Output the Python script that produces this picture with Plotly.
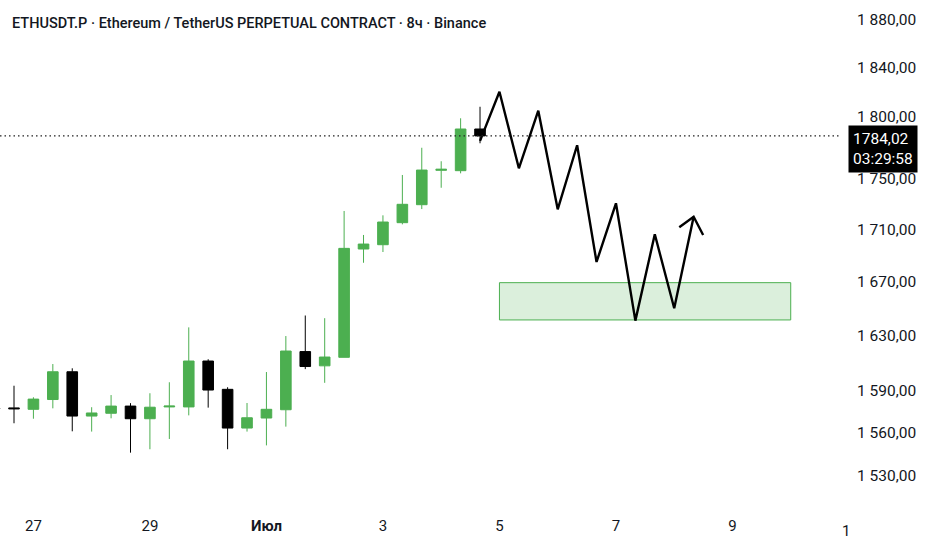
import numpy as np
import pandas as pd
import plotly.graph_objects as go

# 8h candles, ETHUSDT.P
times = pd.date_range("2023-06-26 08:00", periods=26, freq="8h")
opens = [1577.5, 1577.6, 1576.6, 1583.6, 1603.6, 1571.8, 1573.8, 1578.9, 1569.9, 1578.3,
         1578.3, 1611.4, 1590.9, 1563.3, 1570.4, 1576.3, 1618.3, 1607.9, 1614.1, 1695.1,
         1698.4, 1715.4, 1729.4, 1756.5, 1756.2, 1789.6]
highs = [1579.5, 1593.5, 1585.2, 1609.2, 1606.1, 1578.1, 1586.8, 1581.0, 1588.1, 1596.0,
         1636.1, 1612.7, 1592.4, 1581.1, 1603.4, 1629.7, 1644.9, 1642.9, 1724.5, 1705.9,
         1721.1, 1752.8, 1774.5, 1763.7, 1798.3, 1807.7]
lows = [1575.0, 1566.7, 1569.9, 1577.3, 1561.0, 1560.8, 1570.2, 1546.0, 1548.4, 1555.6,
        1572.3, 1577.8, 1548.4, 1560.8, 1551.1, 1564.3, 1605.5, 1595.6, 1614.1, 1684.6,
        1692.8, 1714.1, 1726.0, 1742.7, 1754.1, 1778.1]
closes = [1577.1, 1577.0, 1583.9, 1603.6, 1571.8, 1574.0, 1578.9, 1569.9, 1578.1, 1578.9,
          1611.4, 1590.4, 1563.3, 1570.6, 1576.6, 1618.7, 1607.4, 1614.3, 1695.6, 1698.9,
          1715.9, 1729.7, 1756.7, 1757.3, 1789.6, 1784.02]

# projected zigzag path
path_times = pd.date_range("2023-07-04 16:00", periods=12, freq="8h")
path_prices = [1780.0, 1820.0, 1758.1, 1804.5, 1725.8, 1776.5, 1685.2, 1730.5, 1641.1, 1706.4, 1650.3, 1720.0]
arrow_times = pd.to_datetime(["2023-07-08 02:05", "2023-07-08 08:00", "2023-07-08 11:55"])
arrow_prices = [1711.8, 1720.0, 1705.9]

# demand zone
zone_x = pd.to_datetime(["2023-07-05 00:00", "2023-07-10 00:00"])
zone_y = [1641.6, 1669.5]

last_price = closes[-1]
price_ticks = [1880, 1840, 1800, 1750, 1710, 1670, 1630, 1590, 1560, 1530]
price_labels = ["1 880,00", "1 840,00", "1 800,00", "1 750,00", "1 710,00", "1 670,00",
                "1 630,00", "1 590,00", "1 560,00", "1 530,00"]
date_ticks = pd.to_datetime(["2023-06-27", "2023-06-29", "2023-07-01", "2023-07-03",
                             "2023-07-05", "2023-07-07", "2023-07-09"])
date_labels = ["27", "29", "<b>Июл</b>", "3", "5", "7", "9"]

GREEN = "#4CAF50"
TXT = "#131722"
FONT = "Roboto"

fig = go.Figure()
fig.add_shape(type="rect", x0=zone_x[0], x1=zone_x[1], y0=zone_y[0], y1=zone_y[1],
              xref="x", yref="y", fillcolor="rgba(76,175,80,0.2)", line=dict(color=GREEN, width=1),
              layer="below")
fig.add_trace(go.Candlestick(
    x=times, open=opens, high=highs, low=lows, close=closes,
    increasing=dict(line=dict(color=GREEN, width=1), fillcolor=GREEN),
    decreasing=dict(line=dict(color="#000000", width=1), fillcolor="#000000"),
    whiskerwidth=0, hoverinfo="skip", showlegend=False))
fig.add_shape(type="line", xref="paper", x0=0, x1=1, yref="y", y0=last_price, y1=last_price,
              line=dict(color="#222222", width=1.3, dash="1.5px,3px"))
fig.add_trace(go.Scatter(x=path_times, y=path_prices, mode="lines",
                         line=dict(color="#000000", width=2.4), hoverinfo="skip", showlegend=False))
fig.add_trace(go.Scatter(x=arrow_times, y=arrow_prices, mode="lines",
                         line=dict(color="#000000", width=2.4), hoverinfo="skip", showlegend=False))

fig.add_annotation(xref="paper", yref="paper", x=10 / 840, y=1 - 23 / 515, xanchor="left", yanchor="middle",
                   text="ETHUSDT.P · Ethereum / TetherUS PERPETUAL CONTRACT · 8ч · Binance",
                   showarrow=False, font=dict(family=FONT, size=14.5, color=TXT, weight=500))
fig.add_annotation(xref="paper", yref="y", x=848 / 840, y=np.log10(last_price), xanchor="left", yanchor="top",
                   yshift=11, text="1784,02<br>03:29:58", showarrow=False, align="left",
                   bgcolor="#000000", borderpad=4, font=dict(family=FONT, size=15.5, color="#ffffff"))
fig.add_annotation(xref="paper", yref="paper", x=846 / 840, y=-16 / 515, xanchor="center", yanchor="middle",
                   text="1", showarrow=False, font=dict(family=FONT, size=15, color=TXT))

top = 1880 * np.exp(20 / 2212)
bottom = 1880 * np.exp(-495 / 2212)
fig.update_layout(
    width=932, height=550, margin=dict(l=0, r=92, t=0, b=35),
    plot_bgcolor="#ffffff", paper_bgcolor="#ffffff", boxgap=0.22,
    font=dict(family=FONT, size=15, color=TXT),
    xaxis=dict(type="date", range=["2023-06-26 10:14", "2023-07-10 20:18"], rangeslider=dict(visible=False),
               showgrid=False, zeroline=False, showline=False, tickvals=date_ticks, ticktext=date_labels,
               ticks=""),
    yaxis=dict(type="log", range=[np.log10(bottom), np.log10(top)], side="right", showgrid=False,
               zeroline=False, showline=False, tickvals=price_ticks, ticktext=price_labels, ticks="",
               ticklabelstandoff=16, tickfont=dict(size=15.5)),
)
fig.write_html("out.html", config={"displayModeBar": False},
               post_script="document.body.style.margin='0';")
